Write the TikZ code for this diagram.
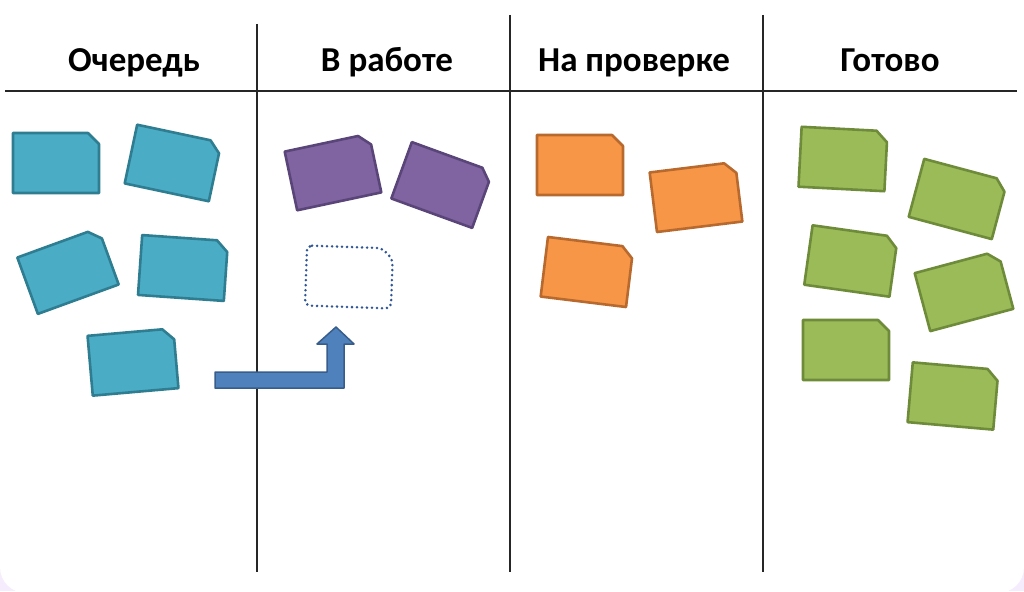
\documentclass[tikz,border=0pt]{standalone}
\usepackage{fontspec}
\setmainfont{Carlito}
\definecolor{bgc}{RGB}{245,237,253}
\definecolor{qfill}{HTML}{4BACC6}
\definecolor{qdraw}{HTML}{2E7D91}
\definecolor{wfill}{HTML}{8064A2}
\definecolor{wdraw}{HTML}{5A4578}
\definecolor{rfill}{HTML}{F79646}
\definecolor{rdraw}{HTML}{B7692E}
\definecolor{dfill}{HTML}{9BBB59}
\definecolor{ddraw}{HTML}{6E8B3A}
\definecolor{afill}{HTML}{4F81BD}
\definecolor{adraw}{HTML}{385D8A}
\definecolor{slotc}{HTML}{2F5597}

\begin{document}
\begin{tikzpicture}
[x=1pt,y=-1pt,line join=round,%
  head/.style={font=\bfseries\fontsize{35}{42}\selectfont,anchor=base,inner sep=0pt},%
  rule/.style={line width=2pt,black!85},%
  card/.style={line width=2.6pt},%
  queue/.style={card,fill=qfill,draw=qdraw},%
  work/.style={card,fill=wfill,draw=wdraw},%
  review/.style={card,fill=rfill,draw=rdraw},%
  done/.style={card,fill=dfill,draw=ddraw},%
  slot/.style={draw=slotc,line width=2.8pt,line cap=round,dash pattern=on 0pt off 5pt,rounded corners=5pt},%
  move/.style={fill=afill,draw=adraw,line width=1.5pt},%
  pics/note/.style={code={
    \draw[#1] (-43,-30) -- (32,-30) -- (43,-19) -- (43,30) -- (-43,30) -- cycle;}}]
\useasboundingbox (0,0) rectangle (1024,591);
\fill[bgc] (0,0) rectangle (1024,591);
\fill[white,rounded corners=26pt] (0,-40) rectangle (1024,593);

\node[head] (queue) at (134,72) {Очередь};
\node[head] (work) at (387,72) {В работе};
\node[head] (review) at (634,72) {На проверке};
\node[head] (done) at (890,72) {Готово};

\draw[rule] (5,91) -- (1017,91);
\draw[rule] (257,24) -- (257,572);
\draw[rule] (510,15) -- (510,572);
\draw[rule] (763,15) -- (763,572);

\pic (q1) at (56,163) {note=queue};
\pic[rotate=-12] (q2) at (173,163) {note=queue};
\pic[rotate=20] (q3) at (68,271) {note=queue};
\pic[rotate=-4] (q4) at (183,268) {note=queue};
\pic[rotate=5] (q5) at (133,362) {note=queue};

\pic[rotate=12] (w1) at (333,172) {note=work};
\pic[rotate=-20] (w2) at (442,185) {note=work};
\pic[rotate=-2] (w3) at (349,277) {note=slot};

\pic (r1) at (580,165) {note=review};
\pic[rotate=7] (r2) at (696,197) {note=review};
\pic[rotate=-7] (r3) at (587,272) {note=review};

\pic[rotate=-3] (d1) at (843,159) {note=done};
\pic[rotate=-15] (d2) at (958,199) {note=done};
\pic[rotate=-8] (d3) at (851,261) {note=done};
\pic[rotate=15] (d4) at (964,291) {note=done};
\pic (d5) at (846,350) {note=done};
\pic[rotate=-5] (d6) at (953,396) {note=done};

\draw[move] (215,372) -- (327,372) -- (327,344) -- (317,344) -- (336,327)
  -- (354,344) -- (344,344) -- (344,388) -- (215,388) -- cycle;
\end{tikzpicture}
\end{document}
